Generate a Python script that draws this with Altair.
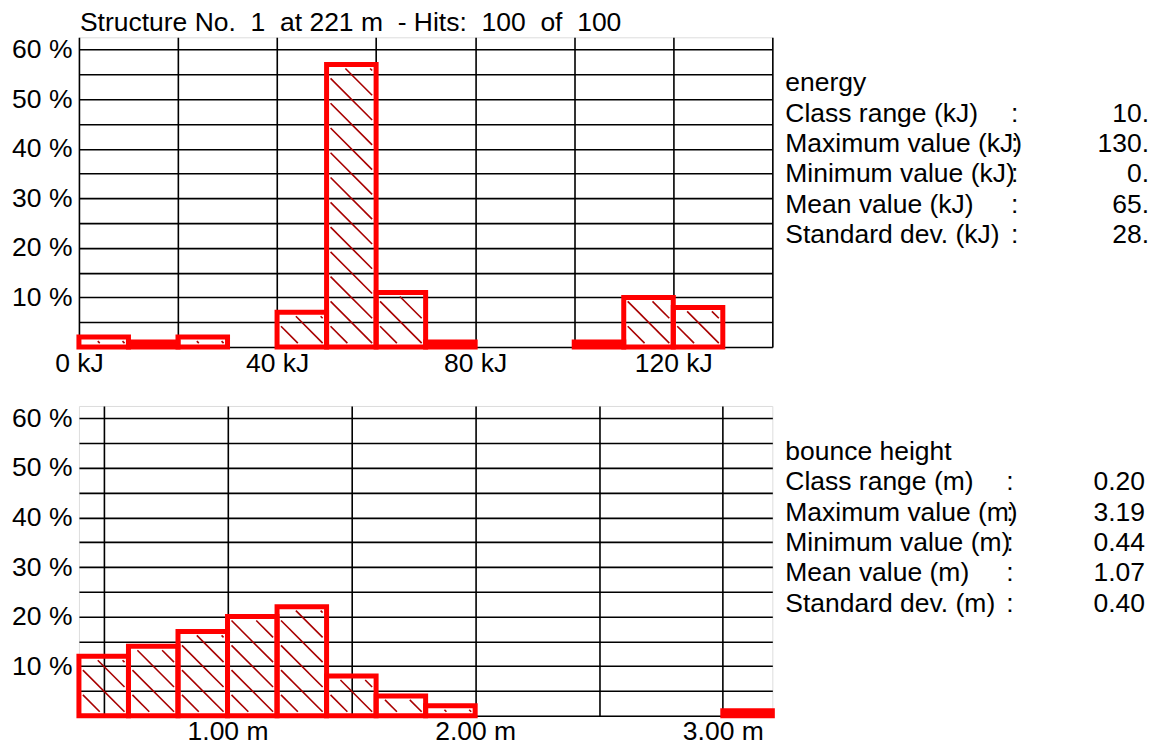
import altair as alt
import pandas as pd

FONT = "Liberation Sans"
FS = 26.5

# ---------------- data ----------------
title_text = "Structure No.\u00a0 1\u00a0 at 221 m\u00a0 - Hits:\u00a0 100\u00a0 of\u00a0 100"

energy_class = 10.0
energy_start = [0, 10, 20, 30, 40, 50, 60, 70, 80, 90, 100, 110, 120]
energy_pct = [2, 1, 2, 0, 7, 57, 11, 1, 0, 0, 1, 10, 8]

bounce_class = 0.2
bounce_start = [0.4, 0.6, 0.8, 1.0, 1.2, 1.4, 1.6, 1.8, 2.0, 2.2, 2.4, 2.6, 2.8, 3.0]
bounce_pct = [12, 14, 17, 20, 22, 8, 4, 2, 0, 0, 0, 0, 0, 1]

energy_labels = ["energy", "Class range (kJ)", "Maximum value (kJ)", "Minimum value (kJ)",
                 "Mean value (kJ)", "Standard dev. (kJ)"]
energy_values = ["", "10.", "130.", "0.", "65.", "28."]
bounce_labels = ["bounce height", "Class range (m)", "Maximum value (m)", "Minimum value (m)",
                 "Mean value (m)", "Standard dev. (m)"]
bounce_values = ["", "0.20", "3.19", "0.44", "1.07", "0.40"]
colons = ["", ":", ":", ":", ":", ":"]

W, H = 694, 310
Y_MAX = 62.5


def bars_df(starts, pcts, width):
    rows = [{"x0": s, "x1": s + width, "pct": p} for s, p in zip(starts, pcts) if p > 0]
    return pd.DataFrame(rows)


def hatch_df(starts, pcts, width, k, spacing, inset_x, inset_y):
    """Diagonal hatch segments derived from the bar data: lines y + k*x = c."""
    rows = []
    for s, p in zip(starts, pcts):
        if p <= 0:
            continue
        x0, x1 = s + inset_x, s + width - inset_x
        y0, y1 = inset_y, p - inset_y
        if y1 <= y0:
            continue
        cmin, cmax = k * x0 + y0, k * x1 + y1
        n = int(cmin // spacing) + 1
        while n * spacing < cmax:
            c = n * spacing
            xa = max(x0, (c - y1) / k)
            xb = min(x1, (c - y0) / k)
            if xb > xa:
                rows.append({"hx": xa, "hy": c - k * xa, "hx2": xb, "hy2": c - k * xb})
            n += 1
    return pd.DataFrame(rows)


def panel(starts, pcts, width, xdomain, xgrid, xlabel_expr, k, labels, values,
          colon_x, value_x, title=None):
    xs = alt.Scale(domain=xdomain, nice=False, zero=False)
    ys = alt.Scale(domain=[0, Y_MAX], nice=False)
    xaxis = alt.Axis(values=xgrid, labelExpr=xlabel_expr, grid=True, gridColor="black",
                     gridWidth=1.6, gridOpacity=1, domain=False, ticks=False, labelPadding=3,
                     labelFontSize=FS, labelFont=FONT, labelColor="black", title=None,
                     labelFlush=False, labelOverlap=False)
    yaxis = alt.Axis(values=list(range(0, 61, 5)),
                     labelExpr="datum.value % 10 == 0 && datum.value > 0 ? datum.value + ' %' : ''",
                     grid=True, gridColor="black", gridWidth=1.6, gridOpacity=1, domain=False,
                     ticks=False, labelPadding=7, labelFontSize=FS, labelFont=FONT,
                     labelColor="black", title=None, labelOverlap=False)

    hd = hatch_df(starts, pcts, width, k, 5.0, 0.8 / k, 0.8)
    hatch = alt.Chart(hd).mark_rule(color="#a80000", strokeWidth=1.6).encode(
        x=alt.X("hx:Q", scale=xs, axis=xaxis),
        y=alt.Y("hy:Q", scale=ys, axis=yaxis),
        x2="hx2:Q",
        y2="hy2:Q",
    )
    bars = alt.Chart(bars_df(starts, pcts, width)).mark_rect(
        fillOpacity=0, stroke="#ff0000", strokeWidth=5
    ).encode(
        x=alt.X("x0:Q", scale=xs, axis=xaxis),
        x2="x1:Q",
        y=alt.Y("pct:Q", scale=ys, axis=yaxis),
        y2=alt.datum(0),
    )
    txt = dict(font=FONT, fontSize=FS, color="black", baseline="middle", lineHeight=30.4)
    lab = alt.Chart().mark_text(align="left", text=labels, **txt).encode(
        x=alt.value(707), y=alt.value(46))
    col = alt.Chart().mark_text(align="left", text=colons, **txt).encode(
        x=alt.value(colon_x), y=alt.value(46))
    val = alt.Chart().mark_text(align="right", text=values, **txt).encode(
        x=alt.value(value_x), y=alt.value(46))
    layers = [hatch, bars, lab, col, val]
    if title is not None:
        t = alt.Chart().mark_text(align="left", baseline="alphabetic", text=title, font=FONT,
                                  fontSize=FS, color="black").encode(
            x=alt.value(1), y=alt.value(-6))
        layers.append(t)
    return alt.layer(*layers).properties(width=W, height=H)


top = panel(energy_start, energy_pct, energy_class, [0, 140], list(range(0, 141, 20)),
            "datum.value % 40 == 0 && datum.value < 140 ? datum.value + ' kJ' : ''",
            1.0, energy_labels, energy_values, 933, 1071, title=title_text)
bottom = panel(bounce_start, bounce_pct, bounce_class, [0.4, 3.2],
               [0.5, 1.0, 1.5, 2.0, 2.5, 3.0],
               "datum.value % 1 == 0 ? format(datum.value, '.2f') + ' m' : ''",
               50.0, bounce_labels, bounce_values, 928, 1067)

chart = alt.vconcat(top, bottom, spacing=59, bounds="flush").configure_view(
    stroke="black", strokeWidth=2
).configure(background="white").properties(
    padding={"left": 3, "top": 1, "right": 0, "bottom": 0}
)

chart.save("out.html", embed_options={"renderer": "svg", "actions": False})
